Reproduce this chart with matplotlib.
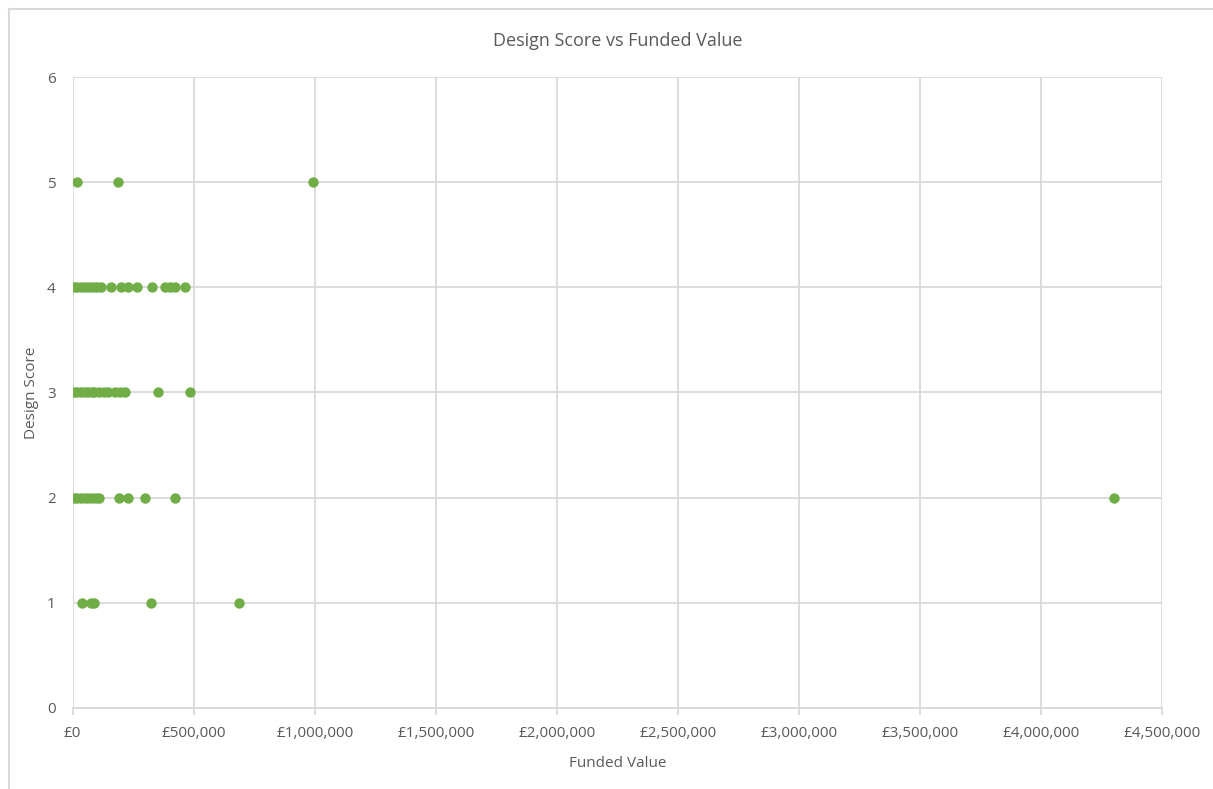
import matplotlib.pyplot as plt
from matplotlib.ticker import FuncFormatter
from matplotlib.lines import Line2D

plt.rcParams['font.family'] = ['Open Sans', 'DejaVu Sans']

# funded value (GBP) for each design score
score5 = [20000, 187000, 995000]
score4 = [4000, 19000, 35000, 52000, 68000, 85000, 101000, 118000, 158000,
          199000, 231000, 268000, 327000, 382000, 403000, 424000, 465000]
score3 = [5000, 20000, 35000, 50000, 65000, 79000, 90000, 110000, 130000,
          145000, 175000, 195000, 215000, 352000, 485000]
score2 = [5000, 20000, 35000, 50000, 65000, 80000, 95000, 110000, 193000,
          231000, 300000, 424000, 4300000]
score1 = [38000, 75000, 88000, 323000, 689000]

funded = score5 + score4 + score3 + score2 + score1
design = ([5] * len(score5) + [4] * len(score4) + [3] * len(score3)
          + [2] * len(score2) + [1] * len(score1))

grey = '#595959'
grid = '#d9d9d9'

fig = plt.figure(figsize=(12.13, 7.89), dpi=100)
ax = fig.add_axes([0.0598, 0.1027, 0.8982, 0.7997])

ax.scatter(funded, design, s=56, color='#70ad47', zorder=3, linewidths=0)

ax.set_xlim(0, 4500000)
ax.set_ylim(0, 6)
ax.set_xticks(range(0, 4500001, 500000))
ax.set_yticks(range(0, 7))
ax.xaxis.set_major_formatter(FuncFormatter(lambda v, p: f"£{int(v):,}"))

ax.grid(True, color=grid, linewidth=1.3)
ax.set_axisbelow(True)
for s in ['top', 'right', 'left']:
    ax.spines[s].set_visible(False)
ax.spines['bottom'].set_color(grid)
ax.spines['bottom'].set_linewidth(1.3)
ax.tick_params(axis='x', colors=grey, labelsize=11, length=5, width=1.3,
               color=grid, pad=8)
ax.tick_params(axis='y', colors=grey, labelsize=11, length=0, pad=12)

ax.set_title('Design Score vs Funded Value', fontsize=13, color=grey, pad=22)
ax.set_xlabel('Funded Value', fontsize=11, color=grey, labelpad=11)
ax.set_ylabel('Design Score', fontsize=11, color=grey, labelpad=6)

# chart area border (top and left edges visible)
fig.add_artist(Line2D([9 / 1213, 1], [1 - 9 / 789, 1 - 9 / 789],
                      transform=fig.transFigure, color='#d9d9d9', lw=1.5))
fig.add_artist(Line2D([9 / 1213, 9 / 1213], [0, 1 - 9 / 789],
                      transform=fig.transFigure, color='#d9d9d9', lw=1.5))

fig.savefig('out.png', dpi=100)
